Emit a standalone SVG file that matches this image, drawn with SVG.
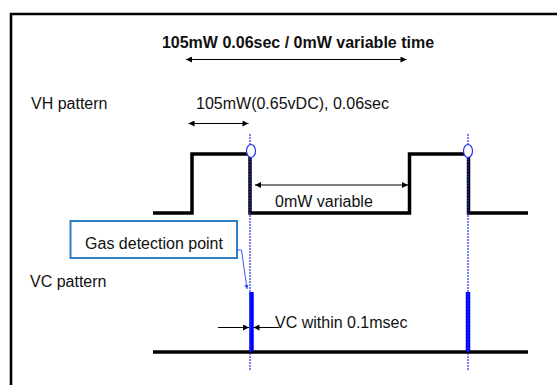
<svg xmlns="http://www.w3.org/2000/svg" width="557" height="385" viewBox="0 0 557 385">
<defs>
<style>
.t{font-family:"Liberation Sans",Arial,sans-serif;font-size:16px;fill:#111}
.b{font-weight:bold}
.wave{fill:none;stroke:#000;stroke-width:3.5;stroke-linejoin:miter}
.dash{stroke:#2233ee;stroke-width:1.2;stroke-dasharray:2 1}
.arr{stroke:#000;stroke-width:1;fill:none}
.pulse{stroke:#0000ff;stroke-width:4.5}
</style>
<marker id="ah" viewBox="0 0 10 10" refX="10" refY="5" markerWidth="8" markerHeight="6" markerUnits="userSpaceOnUse" orient="auto-start-reverse">
<path d="M0,0 L10,5 L0,10 z" fill="#000"/>
</marker>
<marker id="bh" viewBox="0 0 10 10" refX="10" refY="5" markerWidth="5" markerHeight="4" markerUnits="userSpaceOnUse" orient="auto">
<path d="M0,0 L10,5 L0,10 z" fill="#2244ff"/>
</marker>
</defs>
<rect width="557" height="385" fill="#fff"/>
<path d="M11,385 V14 H557" fill="none" stroke="#000" stroke-width="2.6"/>
<g id="title">
<text class="t b" x="298" y="48" text-anchor="middle">105mW 0.06sec / 0mW variable time</text>
</g>
<g id="labels">
<text class="t" x="31" y="109">VH pattern</text>
<text class="t" x="196" y="109">105mW(0.65vDC), 0.06sec</text>
<text class="t" x="275" y="207">0mW variable</text>
<text class="t" x="30" y="287">VC pattern</text>
<text class="t" x="275" y="328">VC within 0.1msec</text>
</g>
<g id="vh-wave">
<path class="wave" d="M153,213 H192 V154 H250 V213 H409.5 V154 H468.5 V213 H528"/>
</g>
<g id="vc-wave">
<path class="wave" d="M153,352 H528" stroke-width="4"/>
<line class="pulse" x1="251.5" y1="292" x2="251.5" y2="351"/>
<line class="pulse" x1="468" y1="292" x2="468" y2="351"/>
</g>
<g id="markers">
<line class="dash" x1="250" y1="134" x2="250" y2="371"/>
<line class="dash" x1="468" y1="134" x2="468" y2="371"/>
<ellipse cx="251" cy="151" rx="4.5" ry="6.5" fill="#fff" stroke="#2233ee" stroke-width="1.2"/>
<ellipse cx="468" cy="151" rx="4.5" ry="6.5" fill="#fff" stroke="#2233ee" stroke-width="1.2"/>
</g>
<g id="callout">
<rect x="70.5" y="221" width="166.5" height="37" fill="#fff" stroke="#2e7fc4" stroke-width="2"/>
<text class="t" x="154" y="249" text-anchor="middle" font-size="15.5">Gas detection point</text>
</g>
<g id="connectors">
<line class="arr" x1="186" y1="59.5" x2="406.5" y2="59.5" marker-start="url(#ah)" marker-end="url(#ah)"/>
<line class="arr" x1="188.5" y1="123.5" x2="248.5" y2="123.5" marker-start="url(#ah)" marker-end="url(#ah)"/>
<line class="arr" x1="255" y1="185" x2="408" y2="185" marker-start="url(#ah)" marker-end="url(#ah)"/>
<line class="arr" x1="218" y1="327.5" x2="249" y2="327.5" marker-end="url(#ah)"/>
<line class="arr" x1="279" y1="327.5" x2="253.5" y2="327.5" marker-end="url(#ah)"/>
<path d="M237.5,250 H241.5 L247,289" fill="none" stroke="#2244ff" stroke-width="0.9" marker-end="url(#bh)"/>
</g>
</svg>
